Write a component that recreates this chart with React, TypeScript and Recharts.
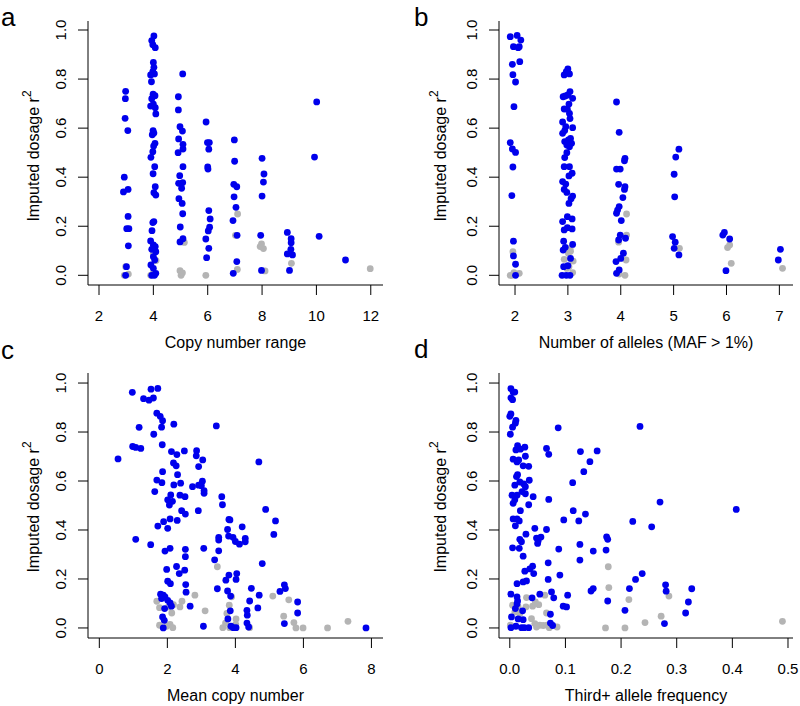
import { ScatterChart, Scatter, XAxis, YAxis } from 'recharts'

type Pt = [number, number]

// ─── Dados (x, r²) ──────────────────────────────────────────────────────────
// azul = pontos em destaque, cinza = demais

// a — copy number range (jitter em torno de inteiros)
const rangeBlue: Pt[] = [
  [2.98, 0.75], [2.97, 0.72], [2.96, 0.64], [3.06, 0.59], [2.93, 0.40], [2.90, 0.34], [3.07, 0.35],
  [3.07, 0.24], [3.02, 0.19], [3.10, 0.19], [3.08, 0.12], [3.01, 0.035], [2.98, 0.0],
  [4.02, 0.976], [3.94, 0.957], [3.98, 0.94], [4.07, 0.928], [4.0, 0.868], [4.02, 0.848], [3.98, 0.83],
  [4.04, 0.821], [3.9, 0.817], [3.93, 0.789], [3.99, 0.738], [4.06, 0.732], [3.94, 0.72], [4.0, 0.698],
  [3.9, 0.69], [4.07, 0.683], [4.09, 0.658], [3.99, 0.59], [4.02, 0.58], [3.96, 0.573], [4.06, 0.538],
  [4.01, 0.527], [3.98, 0.504], [3.91, 0.481], [4.05, 0.443], [3.99, 0.414], [4.07, 0.361], [4.02, 0.337],
  [4.09, 0.327], [4.02, 0.219], [3.98, 0.215], [3.95, 0.182], [3.9, 0.14], [4.0, 0.124], [4.07, 0.117],
  [3.94, 0.106], [4.09, 0.096], [4.0, 0.076], [4.05, 0.0625], [3.91, 0.042], [4.0, 0.0285], [3.94, 0.0],
  [4.04, 0.0], [4.09, 0.008],
  [5.08, 0.821], [4.92, 0.728], [4.92, 0.674], [4.98, 0.606], [5.07, 0.588], [4.93, 0.556], [5.09, 0.534],
  [5.09, 0.515], [4.91, 0.5], [5.09, 0.443], [4.97, 0.406], [5.08, 0.378], [4.93, 0.375], [5.04, 0.355],
  [4.94, 0.3125], [5.06, 0.293], [5.08, 0.251], [4.99, 0.197], [5.09, 0.149], [4.98, 0.136],
  [5.94, 0.625], [5.99, 0.541], [6.06, 0.541], [6.04, 0.514], [6.0, 0.4415], [6.01, 0.433], [6.04, 0.264],
  [6.09, 0.23], [6.07, 0.196], [6.02, 0.181], [5.93, 0.148], [6.04, 0.11], [5.96, 0.072],
  [6.98, 0.552], [6.99, 0.465], [6.96, 0.371], [7.07, 0.361], [6.97, 0.32], [7.04, 0.277], [6.93, 0.223],
  [7.08, 0.163], [7.07, 0.056], [6.94, 0.008],
  [8.0, 0.477], [8.07, 0.413], [8.05, 0.38], [8.0, 0.323], [7.95, 0.163], [7.98, 0.02],
  [8.93, 0.175], [9.07, 0.149], [9.07, 0.133], [9.06, 0.106], [8.93, 0.087], [9.12, 0.083], [9.01, 0.02],
  [10.01, 0.707], [9.93, 0.482], [10.1, 0.159], [11.07, 0.0625],
]
const rangeGrey: Pt[] = [
  [2.98, 0.035], [3.08, 0.005], [2.93, 0.0], [4.0, 0.09], [4.1, 0.06], [3.9, 0.0], [4.0, 0.01],
  [5.14, 0.134], [4.98, 0.019], [5.02, 0.0], [5.07, 0.01], [5.93, 0.0], [7.1, 0.25], [7.02, 0.163],
  [7.09, 0.024], [7.98, 0.128], [7.93, 0.117], [8.05, 0.109], [8.11, 0.018], [9.08, 0.049], [9.06, 0.09],
  [11.98, 0.027],
]

// b — número de alelos (MAF > 1%)
const allelesBlue: Pt[] = [
  [1.91, 0.973], [2.04, 0.978], [2.11, 0.959], [1.97, 0.932], [2.06, 0.928], [2.08, 0.932], [2.09, 0.871],
  [1.95, 0.86], [1.96, 0.818], [2.01, 0.788], [1.98, 0.6875], [1.91, 0.541], [1.95, 0.515], [2.01, 0.501],
  [1.96, 0.4416], [1.94, 0.325], [1.97, 0.139], [1.97, 0.079], [2.01, 0.045], [2.01, 0.0],
  [3.0, 0.841], [2.97, 0.83], [2.93, 0.817], [3.03, 0.821], [2.95, 0.731], [3.0, 0.735], [3.04, 0.749],
  [3.09, 0.7215], [2.91, 0.728], [3.02, 0.698], [2.93, 0.678], [2.99, 0.677], [3.03, 0.66], [3.04, 0.639],
  [2.9, 0.625], [2.96, 0.606], [3.09, 0.602], [2.94, 0.59], [2.9, 0.579], [2.94, 0.545], [3.01, 0.552],
  [3.05, 0.558], [3.07, 0.538], [2.98, 0.531], [3.03, 0.524], [2.98, 0.5], [2.94, 0.48], [2.93, 0.443],
  [3.03, 0.443], [3.08, 0.416], [3.02, 0.405], [2.9, 0.382], [2.96, 0.372], [2.93, 0.35], [2.98, 0.338],
  [3.09, 0.323], [3.06, 0.3125], [3.02, 0.293], [2.99, 0.239], [3.08, 0.23], [2.9, 0.219], [2.93, 0.185],
  [2.99, 0.194], [3.08, 0.189], [2.92, 0.139], [3.09, 0.126], [2.95, 0.114], [2.91, 0.103], [3.05, 0.069],
  [2.92, 0.035], [3.0, 0.039], [2.89, 0.0], [2.97, 0.0], [3.04, 0.0],
  [3.92, 0.7065], [3.97, 0.583], [4.08, 0.477], [4.07, 0.467], [3.92, 0.433], [3.99, 0.433], [3.96, 0.371],
  [4.08, 0.361], [4.07, 0.35], [4.04, 0.317], [3.97, 0.28], [3.94, 0.266], [3.92, 0.253], [4.01, 0.223],
  [3.99, 0.164], [4.09, 0.151], [3.96, 0.144], [4.05, 0.09], [4.0, 0.069], [3.91, 0.056], [3.97, 0.022],
  [3.92, 0.008],
  [5.1, 0.514], [5.04, 0.482], [5.01, 0.412], [5.02, 0.32], [4.98, 0.158], [5.03, 0.135], [5.01, 0.11],
  [5.1, 0.083],
  [5.96, 0.175], [5.93, 0.164], [6.06, 0.148], [5.99, 0.019],
  [7.02, 0.106], [6.98, 0.0625],
]
const allelesGrey: Pt[] = [
  [1.96, 0.096], [1.91, 0.0], [1.98, 0.011], [2.08, 0.008], [1.94, 0.0], [3.04, 0.11], [3.01, 0.09],
  [2.93, 0.065], [3.1, 0.058], [3.02, 0.035], [3.09, 0.011], [2.98, 0.028], [3.05, 0.098], [4.11, 0.25],
  [4.11, 0.164], [3.96, 0.135], [4.1, 0.0625], [4.08, 0.0], [3.97, 0.005], [5.11, 0.11], [6.06, 0.124],
  [6.02, 0.113], [6.09, 0.049], [7.06, 0.0285],
]

// c — mean copy number
const meanBlue: Pt[] = [
  [0.97, 0.962], [1.3, 0.936], [1.46, 0.93], [1.59, 0.939], [1.52, 0.975], [1.72, 0.978], [1.69, 0.877],
  [1.79, 0.864], [1.86, 0.846], [1.83, 0.82], [2.19, 0.832], [1.17, 0.819], [1.6, 0.791], [3.44, 0.825],
  [0.98, 0.741], [1.07, 0.737], [1.22, 0.733], [0.55, 0.69], [1.85, 0.748], [2.12, 0.72], [2.28, 0.708],
  [2.5, 0.723], [2.86, 0.724], [2.85, 0.703], [3.04, 0.686], [4.69, 0.678], [2.18, 0.674], [2.26, 0.662],
  [2.92, 0.659], [1.86, 0.638], [2.3, 0.626], [1.69, 0.604], [1.84, 0.593], [2.19, 0.584], [2.39, 0.591],
  [2.74, 0.577], [2.92, 0.583], [3.03, 0.599], [3.0, 0.581], [1.63, 0.557], [3.08, 0.55], [3.08, 0.561],
  [2.1, 0.543], [2.37, 0.542], [2.52, 0.536], [2.01, 0.523], [2.15, 0.517], [2.06, 0.502], [3.6, 0.536],
  [3.62, 0.503], [2.42, 0.479], [2.53, 0.465], [2.91, 0.479], [4.89, 0.484], [2.08, 0.445], [2.29, 0.439],
  [1.89, 0.434], [1.72, 0.416], [2.01, 0.407], [3.81, 0.443], [3.84, 0.441], [5.18, 0.437], [4.2, 0.413],
  [3.77, 0.402], [3.51, 0.37], [3.51, 0.359], [3.8, 0.375], [3.93, 0.37], [4.0, 0.353], [4.12, 0.342],
  [4.29, 0.366], [4.29, 0.352], [5.13, 0.382], [1.07, 0.362], [1.51, 0.34], [1.93, 0.314], [2.08, 0.325],
  [2.53, 0.321], [2.53, 0.291], [3.07, 0.325], [3.51, 0.315], [3.39, 0.278], [4.79, 0.263], [1.98, 0.239],
  [2.27, 0.251], [2.51, 0.236], [2.35, 0.222], [2.01, 0.191], [2.09, 0.181], [2.54, 0.177], [2.55, 0.146],
  [3.72, 0.195], [3.81, 0.216], [4.04, 0.222], [4.02, 0.198], [3.47, 0.16], [3.77, 0.151], [3.86, 0.13],
  [4.47, 0.162], [4.7, 0.134], [4.42, 0.11], [5.44, 0.176], [5.47, 0.161], [5.31, 0.149], [5.83, 0.106],
  [5.83, 0.061], [1.8, 0.138], [1.88, 0.134], [1.93, 0.127], [1.83, 0.12], [2.01, 0.113], [2.08, 0.102],
  [2.12, 0.089], [1.92, 0.079], [1.86, 0.045], [1.91, 0.031], [1.88, 0.0], [2.67, 0.089], [3.85, 0.07],
  [3.78, 0.037], [4.34, 0.072], [4.35, 0.052], [4.34, 0.02], [4.39, 0.004], [4.66, 0.082], [5.44, 0.018],
  [3.06, 0.007], [3.87, 0.007], [3.94, 0.001], [4.02, 0.001], [7.84, 0.0],
]
const meanGrey: Pt[] = [
  [3.47, 0.25], [2.81, 0.134], [3.11, 0.07], [2.43, 0.109], [2.37, 0.086], [2.13, 0.061], [2.18, 0.095],
  [1.69, 0.109], [1.77, 0.083], [2.03, 0.086], [1.77, 0.011], [1.98, 0.007], [2.08, 0.015], [2.16, 0.001],
  [3.89, 0.127], [3.82, 0.093], [3.75, 0.059], [4.02, 0.037], [3.63, 0.001], [3.71, 0.02], [3.83, 0.001],
  [4.01, 0.015], [4.42, 0.001], [5.1, 0.13], [5.57, 0.115], [5.42, 0.048], [5.72, 0.022], [5.78, 0.0],
  [5.99, 0.0], [6.71, 0.0], [7.31, 0.027],
]

// d — frequência do terceiro+ alelo
const thirdBlue: Pt[] = [
  [0.002, 0.977], [0.006, 0.963], [0.009, 0.963], [0.002, 0.939], [0.005, 0.932], [0.0, 0.864],
  [0.002, 0.874], [0.011, 0.847], [0.01, 0.836], [0.005, 0.82], [0.001, 0.791], [0.014, 0.744],
  [0.011, 0.727], [0.019, 0.73], [0.027, 0.738], [0.028, 0.701], [0.006, 0.689], [0.016, 0.686],
  [0.013, 0.678], [0.024, 0.662], [0.034, 0.66], [0.014, 0.626], [0.012, 0.618], [0.018, 0.596],
  [0.035, 0.603], [0.009, 0.583], [0.025, 0.588], [0.028, 0.577], [0.022, 0.557], [0.028, 0.548],
  [0.004, 0.542], [0.013, 0.542], [0.042, 0.536], [0.006, 0.509], [0.009, 0.523], [0.034, 0.503],
  [0.019, 0.479], [0.006, 0.445], [0.013, 0.445], [0.017, 0.437], [0.01, 0.417], [0.029, 0.383],
  [0.018, 0.362], [0.021, 0.352], [0.005, 0.327], [0.017, 0.325], [0.024, 0.293], [0.045, 0.407],
  [0.048, 0.367], [0.051, 0.356], [0.05, 0.345], [0.056, 0.371], [0.066, 0.402], [0.041, 0.252],
  [0.036, 0.241], [0.027, 0.232], [0.043, 0.222], [0.03, 0.192], [0.024, 0.188], [0.013, 0.181],
  [0.002, 0.138], [0.013, 0.127], [0.014, 0.11], [0.013, 0.098], [0.01, 0.079], [0.023, 0.07],
  [0.003, 0.045], [0.015, 0.037], [0.024, 0.034], [0.04, 0.123], [0.054, 0.138], [0.002, 0.001],
  [0.011, 0.007], [0.021, 0.001], [0.026, 0.001], [0.034, 0.001],
  [0.066, 0.733], [0.07, 0.709], [0.07, 0.525], [0.069, 0.266], [0.069, 0.198], [0.075, 0.147],
  [0.079, 0.123], [0.073, 0.056], [0.073, 0.02], [0.077, 0.01],
  [0.088, 0.322], [0.09, 0.216], [0.087, 0.817], [0.097, 0.441], [0.096, 0.089], [0.102, 0.086],
  [0.104, 0.134], [0.113, 0.593], [0.114, 0.479], [0.124, 0.437], [0.127, 0.72], [0.126, 0.341],
  [0.126, 0.277], [0.133, 0.638], [0.136, 0.465], [0.144, 0.679], [0.157, 0.723], [0.146, 0.151],
  [0.15, 0.161], [0.15, 0.314], [0.174, 0.372], [0.176, 0.362], [0.173, 0.318], [0.176, 0.11],
  [0.207, 0.072], [0.215, 0.161], [0.221, 0.435], [0.226, 0.198], [0.238, 0.222], [0.234, 0.823],
  [0.255, 0.413], [0.27, 0.514], [0.28, 0.176], [0.281, 0.15], [0.278, 0.018], [0.321, 0.106],
  [0.327, 0.16], [0.316, 0.061], [0.407, 0.484],
]
const thirdGrey: Pt[] = [
  [0.177, 0.25], [0.178, 0.165], [0.214, 0.116], [0.286, 0.13], [0.272, 0.048], [0.243, 0.022],
  [0.172, 0.0], [0.207, 0.0], [0.49, 0.027], [0.005, 0.093], [0.009, 0.065], [0.015, 0.086],
  [0.018, 0.059], [0.03, 0.124], [0.029, 0.086], [0.041, 0.089], [0.046, 0.106], [0.052, 0.095],
  [0.039, 0.038], [0.045, 0.018], [0.054, 0.011], [0.063, 0.134], [0.066, 0.061], [0.067, 0.011],
  [0.071, 0.001], [0.085, 0.004], [0.001, 0.011], [0.048, 0.004], [0.06, 0.01],
]

// ─── Eixos ───────────────────────────────────────────────────────────────────
const yTicks = [0, 0.2, 0.4, 0.6, 0.8, 1.0]
const rangeTicks = [2, 4, 6, 8, 10, 12]
const allelesTicks = [2, 3, 4, 5, 6, 7]
const meanTicks = [0, 2, 4, 6, 8]
const thirdTicks = [0, 0.1, 0.2, 0.3, 0.4, 0.5]

const FONT = '"Liberation Sans", Arial, Helvetica, sans-serif'
const BLUE = '#0000EC'
const GREY = '#B4B4B4'

const toRows = (pts: Pt[]) => pts.map(([x, y]) => ({ x, y }))

const dot = (fill: string) => (p: any) => <circle cx={p.cx} cy={p.cy} r={3.4} fill={fill} />

interface PanelProps {
  left: number
  top: number
  height: number
  axisW: number
  mTop: number
  mRight: number
  xAxisH: number
  xDomain: [number, number]
  yDomain: [number, number]
  xTicks: number[]
  xFmt: (v: number) => string
  blue: Pt[]
  grey: Pt[]
}

function Panel({ left, top, height, axisW, mTop, mRight, xAxisH, xDomain, yDomain, xTicks, xFmt, blue, grey }: PanelProps) {
  const plotBottom = height - xAxisH
  const xTick = (p: any) => (
    <text x={p.x} y={plotBottom + 36} textAnchor="middle" fontSize={15} fontFamily={FONT} fill="#000">
      {xFmt(p.payload.value)}
    </text>
  )
  const yTick = (p: any) => {
    const tx = axisW - 22
    return (
      <text x={tx} y={p.y} transform={`rotate(-90 ${tx} ${p.y})`} textAnchor="middle" fontSize={15} fontFamily={FONT} fill="#000">
        {p.payload.value.toFixed(1)}
      </text>
    )
  }
  return (
    <div style={{ position: 'absolute', left, top }}>
      <ScatterChart width={400} height={height} margin={{ top: mTop, right: mRight, bottom: 0, left: 0 }}>
        <XAxis
          type="number" dataKey="x" domain={xDomain} ticks={xTicks} interval={0} allowDataOverflow
          height={xAxisH} tickSize={10} axisLine={{ stroke: '#000' }} tickLine={{ stroke: '#000' }} tick={xTick}
        />
        <YAxis
          type="number" dataKey="y" domain={yDomain} ticks={yTicks} interval={0} allowDataOverflow
          width={axisW} tickSize={10} axisLine={{ stroke: '#000' }} tickLine={{ stroke: '#000' }} tick={yTick}
        />
        <Scatter data={toRows(grey)} shape={dot(GREY)} isAnimationActive={false} />
        <Scatter data={toRows(blue)} shape={dot(BLUE)} isAnimationActive={false} />
      </ScatterChart>
    </div>
  )
}

const num = (v: number) => String(v)
const dec = (v: number) => v.toFixed(1)

function YTitle({ x, y }: { x: number; y: number }) {
  return (
    <text x={x} y={y} transform={`rotate(-90 ${x} ${y})`} textAnchor="middle" fontSize={16} fontFamily={FONT} fill="#000">
      Imputed dosage r<tspan dy={-8} fontSize={12}>2</tspan>
    </text>
  )
}

export default function App() {
  return (
    <div style={{ position: 'absolute', left: 0, top: 0, width: 800, height: 706, background: '#fff', overflow: 'hidden' }}>
      <Panel left={0} top={0} height={360} axisW={88} mTop={21} mRight={17} xAxisH={75}
        xDomain={[1.595, 12.45]} yDomain={[-0.0395, 1.0367]} xTicks={rangeTicks} xFmt={num}
        blue={rangeBlue} grey={rangeGrey} />
      <Panel left={400} top={0} height={360} axisW={99} mTop={21} mRight={7} xAxisH={75}
        xDomain={[1.697, 7.258]} yDomain={[-0.0395, 1.0367]} xTicks={allelesTicks} xFmt={num}
        blue={allelesBlue} grey={allelesGrey} />
      <Panel left={0} top={340} height={366} axisW={88} mTop={33} mRight={17} xAxisH={68}
        xDomain={[-0.333, 8.34]} yDomain={[-0.041, 1.041]} xTicks={meanTicks} xFmt={num}
        blue={meanBlue} grey={meanGrey} />
      <Panel left={400} top={340} height={366} axisW={99} mTop={33} mRight={7} xAxisH={68}
        xDomain={[-0.0194, 0.509]} yDomain={[-0.041, 1.041]} xTicks={thirdTicks} xFmt={dec}
        blue={thirdBlue} grey={thirdGrey} />

      <svg width={800} height={706} style={{ position: 'absolute', left: 0, top: 0, pointerEvents: 'none' }}>
        <g fontFamily={FONT} fill="#000">
          <text x={1} y={26} fontSize={26}>a</text>
          <text x={414} y={26} fontSize={26}>b</text>
          <text x={1} y={359} fontSize={26}>c</text>
          <text x={414} y={358} fontSize={26}>d</text>
          <text x={235.5} y={348} fontSize={16} textAnchor="middle">Copy number range</text>
          <text x={646} y={348} fontSize={16} textAnchor="middle">Number of alleles (MAF &gt; 1%)</text>
          <text x={235.5} y={701} fontSize={16} textAnchor="middle">Mean copy number</text>
          <text x={646} y={701} fontSize={16} textAnchor="middle">Third+ allele frequency</text>
        </g>
        <YTitle x={39} y={156} />
        <YTitle x={446} y={156} />
        <YTitle x={39} y={507} />
        <YTitle x={446} y={507} />
      </svg>
    </div>
  )
}
